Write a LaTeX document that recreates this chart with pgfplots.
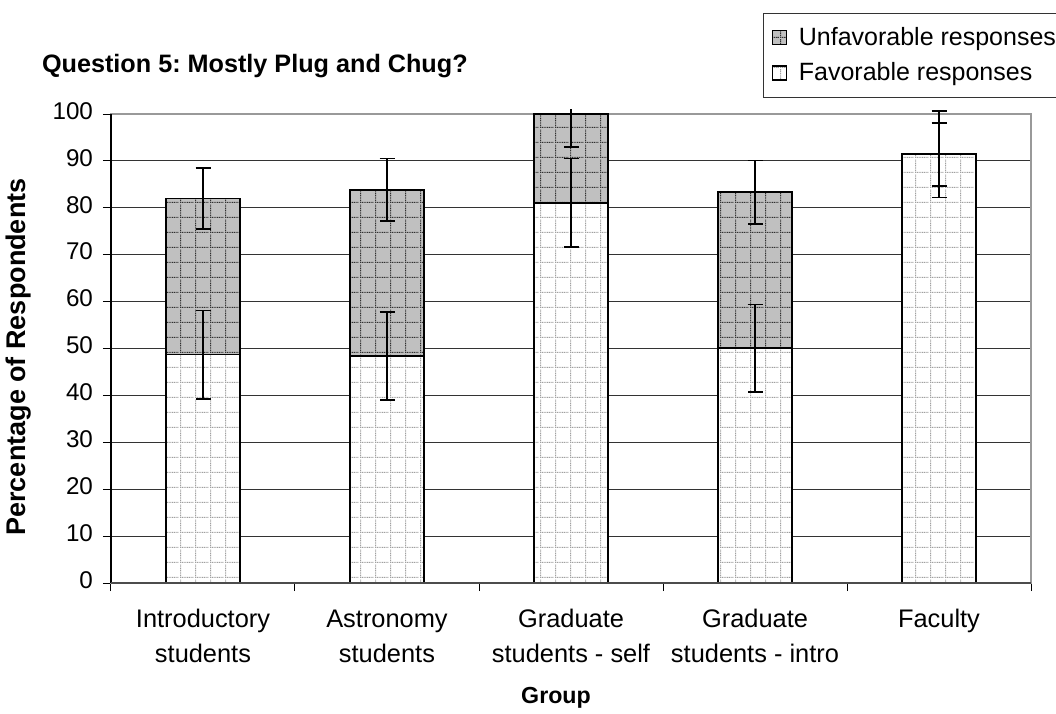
\documentclass[border=0pt]{standalone}
\usepackage{fontspec}
\setmainfont{Liberation Sans}
\usepackage{pgfplots}
\pgfplotsset{compat=1.18}
\usetikzlibrary{patterns}
\frenchspacing

% dotted grid used by Excel-style bar fills
\pgfdeclarepatternformonly{dotgrid}{\pgfpointorigin}{\pgfpoint{7.5pt}{7.5pt}}{\pgfpoint{7.5pt}{7.5pt}}{%
  \foreach \i in {0,0.9375,...,6.6} {%
    \pgfpathrectangle{\pgfpoint{\i pt}{0pt}}{\pgfpoint{0.6pt}{0.6pt}}%
    \pgfpathrectangle{\pgfpoint{0pt}{\i pt}}{\pgfpoint{0.6pt}{0.6pt}}%
  }%
  \pgfusepath{fill}%
}

\definecolor{unfav}{HTML}{C0C0C0}
\definecolor{unfavdot}{HTML}{303030}
\definecolor{favdot}{HTML}{A0A0A0}

\begin{document}
\begin{tikzpicture}
\useasboundingbox (-55.5pt,-65pt) rectangle (472.5pt,291.5pt);
\begin{axis}[
  at={(0pt,0pt)}, anchor=south west,
  scale only axis, width=460pt, height=234.5pt,
  ybar stacked, bar width=37pt,
  xmin=-0.5, xmax=4.5, ymin=0, ymax=100,
  xtick={0,1,2,3,4},
  xticklabels={Introductory\\students, Astronomy\\students, Graduate\\students - self, Graduate\\students - intro, Faculty},
  typeset ticklabels with strut,
  xticklabel style={align=center, font=\fontsize{12.7}{17.5}\selectfont, yshift=-2.5pt},
  major x tick style={draw=none},
  minor xtick={-0.5,0.5,...,4.5},
  minor tick length=4pt,
  xtick pos=lower, ytick pos=left,
  ytick={0,10,...,100},
  yticklabel style={font=\fontsize{12.1}{13}\selectfont, xshift=-1.5pt},
  /pgf/number format/assume math mode=true,
  tick align=outside, major tick length=4pt,
  tick style={black, line width=0.5pt},
  axis line style={draw=gray!80, line width=0.6pt},
  ymajorgrids, grid style={black!80, line width=0.5pt},
  reverse legend,
  legend cell align=left,
  legend style={at={(0.7087,1.216)}, anchor=north west, draw=black!80, line width=0.5pt,
    font=\fontsize{12.5}{14}\selectfont, inner xsep=4pt, inner ysep=5pt,
    row sep=3pt, /tikz/every odd column/.append style={column sep=4pt}},
  legend image code/.code={\draw[#1, line width=0.7pt] (0pt,-3.5pt) rectangle (7pt,3.5pt);},
  clip=false,
]
\addplot[draw=black, line width=0.9pt, fill=white,
  postaction={pattern=dotgrid, pattern color=favdot}]
  coordinates {(0,48.7) (1,48.4) (2,81.1) (3,50.1) (4,91.4)};
\addlegendentry{Favorable responses}
\addplot[draw=black, line width=0.9pt, fill=unfav,
  postaction={pattern=dotgrid, pattern color=unfavdot}]
  coordinates {(0,33.3) (1,35.4) (2,18.9) (3,33.2)};
\addlegendentry{Unfavorable responses}
\end{axis}
% left axis line in black
\draw[black, line width=0.6pt] (0pt,0pt) -- (0pt,234.5pt);
\draw[black!70, line width=0.6pt] (0pt,0pt) -- (460pt,0pt);
% error bars, drawn in an overlay axis of the same scale
\begin{axis}[
  at={(0pt,0pt)}, anchor=south west,
  scale only axis, width=460pt, height=236.845pt,
  xmin=-0.5, xmax=4.5, ymin=0, ymax=101,
  hide axis,
]
\addplot[draw=none, mark=none,
  error bars/.cd, y dir=both, y explicit,
  error mark options={rotate=90, mark size=3.75pt, line width=0.9pt, black},
  error bar style={line width=0.9pt, black}]
  coordinates {(0,48.7)+-(0,9.4) (1,48.4)+-(0,9.4) (2,81.1)+-(0,9.4) (3,50.1)+-(0,9.3) (4,91.4)+-(0,9.2)};
\addplot[draw=none, mark=none,
  error bars/.cd, y dir=both, y explicit,
  error mark options={rotate=90, mark size=3.75pt, line width=0.9pt, black},
  error bar style={line width=0.9pt, black}]
  coordinates {(0,82.0)+-(0,6.5) (1,83.8)+-(0,6.7) (2,100)+-(0,7.0) (3,83.3)+-(0,6.8) (4,91.4)+-(0,6.7)};
\end{axis}
\node[anchor=west, font=\bfseries\fontsize{12.6}{15}\selectfont] at (-38pt,258.5pt) {Question 5: Mostly Plug and Chug?};
\node[font=\bfseries\fontsize{11.6}{14}\selectfont] at (222.5pt,-57.5pt) {Group};
\node[rotate=90, font=\bfseries\fontsize{13.5}{15}\selectfont] at (-46pt,113pt) {Percentage of Respondents};
\end{tikzpicture}
\end{document}
